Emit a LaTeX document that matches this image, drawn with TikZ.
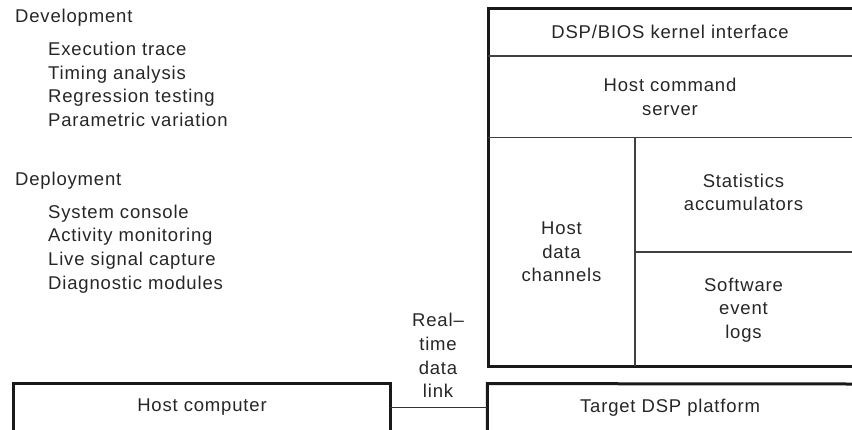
\documentclass[tikz,border=0pt]{standalone}
\usepackage{fontspec}
\setmainfont{Liberation Sans}[LetterSpace=4.5]
\usepackage{tikz}

\begin{document}
\begin{tikzpicture}[x=1pt, y=-1pt,
    every node/.style={font=\fontsize{18.5}{23.7}\selectfont, text=black!85, inner sep=0pt, align=center},
    block/.style={minimum width=#1},
    boxframe/.style={line width=3pt, black!90},
    part/.style={line width=1.1pt, black!75},
    link/.style={line width=0.9pt, black!80}]
    \useasboundingbox (0,0) rectangle (852,429);

    % Tool list
    \node[anchor=base west] (dev) at (15,22.3) {Development};
    \foreach \i/\t in {1/Execution trace, 2/Timing analysis, 3/Regression testing, 4/Parametric variation} {
        \node[anchor=base west] (dev\i) at (48, 23.6*\i+32.1) {\t};
    }
    \node[anchor=base west] (dep) at (15,185.7) {Deployment};
    \foreach \i/\t in {1/System console, 2/Activity monitoring, 3/Live signal capture, 4/Diagnostic modules} {
        \node[anchor=base west] (dep\i) at (48, 23.6*\i+194.7) {\t};
    }

    % Target blocks
    \node[block=364, minimum height=48] (kernel) at (670,32) {DSP/BIOS kernel interface};
    \node[block=364, minimum height=82] (server) at (670,97) {Host command\\server};
    \node[block=147, minimum height=229] (channels) at (561.5,252) {Host\\data\\channels};
    \node[block=217, minimum height=114] (stats) at (743.5,192.5) {Statistics\\accumulators};
    \node[block=217, minimum height=115] (logs) at (743.5,310) {Software\\event\\logs};

    % Platforms
    \node[block=376, minimum height=47] (host) at (202,407.3) {Host computer};
    \node[block=365, minimum height=47] (target) at (670,407.3) {Target DSP platform};

    % Frames
    \draw[boxframe] (852,8) -- (488,8) -- (488,366) -- (852,366);
    \draw[boxframe] (host.south west) -- (host.north west) -- (host.north east) -- (host.south east);
    \draw[boxframe] (target.south west) -- (target.north west) -- (852,384);

    % Dividers
    \draw[part] (488,56) -- (852,56);
    \draw[part] (488,137.5) -- (852,137.5);
    \draw[part] (635,137.5) -- (635,366);
    \draw[part] (635,252) -- (852,252);

    % Link
    \draw[link] (host.east) -- (target.west);
    \node (linklabel) at (438,355.5) {Real--\\time\\data\\link};
\end{tikzpicture}
\end{document}
